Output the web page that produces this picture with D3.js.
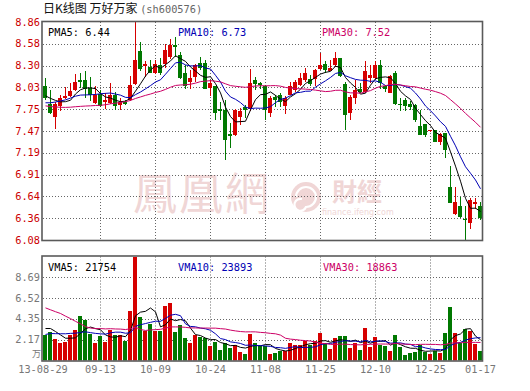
<!DOCTYPE html>
<html><head><meta charset="utf-8">
<script src="https://cdn.jsdelivr.net/npm/d3@7"></script>
<style>body{margin:0;background:#fff}svg{display:block}</style>
</head><body>
<svg id="c" width="530" height="391"></svg>
<script>
// ---------- data ----------
const dates = ["13-08-29","08-30","09-02","09-03","09-04","09-05","09-06","09-09","09-10","09-11","09-12","09-13",
"09-16","09-17","09-18","09-23","09-24","09-25","09-26","09-27","09-30","10-08","10-09",
"10-10","10-11","10-14","10-15","10-16","10-17","10-18","10-21","10-22","10-23","10-24",
"10-25","10-28","10-29","10-30","10-31","11-01","11-04","11-05","11-06","11-07","11-08",
"11-11","11-12","11-13","11-14","11-15","11-18","11-19","11-20","11-21","11-22","11-25",
"11-26","11-27","11-28","11-29","12-02","12-03","12-04","12-05","12-06","12-09","12-10",
"12-11","12-12","12-13","12-16","12-17","12-18","12-19","12-20","12-23","12-24","12-25",
"12-26","12-27","12-30","01-09","01-10","01-13","01-14","01-15","01-16","01-17"];
const open  = [8.04,7.82,7.65,7.79,7.89,7.91,7.99,8.12,8.12,8.02,7.83,7.94,7.84,7.83,7.93,7.80,7.84,7.86,8.07,8.49,
8.30,8.29,8.21,8.31,8.33,8.41,8.57,8.44,8.21,8.10,8.16,8.34,8.34,8.02,8.04,7.75,7.74,7.43,7.42,7.65,
7.77,7.75,8.12,8.08,8.04,7.70,7.90,7.93,7.79,7.93,7.99,8.06,8.12,8.13,8.13,8.26,8.33,8.23,8.31,8.40,
8.07,7.70,7.89,8.01,7.97,8.14,8.14,8.31,8.04,7.96,8.21,7.82,7.87,7.82,7.80,7.53,7.56,7.47,7.48,7.33,
7.44,6.76,6.41,6.51,6.35,6.30,6.54,6.51];
const high  = [8.14,7.99,7.84,7.93,8.03,8.08,8.20,8.21,8.23,8.16,8.04,7.99,7.95,8.08,7.97,7.89,7.87,8.17,8.86,8.61,
8.36,8.38,8.38,8.40,8.58,8.64,8.67,8.48,8.31,8.25,8.33,8.41,8.37,8.12,8.05,7.84,7.87,7.57,7.75,7.76,
7.80,8.26,8.16,8.10,8.06,7.92,7.93,7.95,7.91,8.10,8.12,8.21,8.27,8.19,8.26,8.46,8.36,8.38,8.48,8.40,
8.10,7.93,8.12,8.08,8.36,8.31,8.36,8.37,8.06,8.18,8.23,7.89,7.89,7.85,7.82,7.74,7.56,7.48,7.48,7.45,
7.45,7.02,6.76,6.63,6.51,6.61,6.61,6.56];
const low   = [7.87,7.69,7.50,7.72,7.88,7.90,7.98,8.02,7.89,7.85,7.82,7.78,7.75,7.82,7.74,7.74,7.80,7.85,8.06,8.23,
8.16,8.21,8.20,8.18,8.27,8.39,8.42,8.13,8.01,8.01,8.10,8.25,8.01,7.91,7.61,7.61,7.10,7.25,7.40,7.55,
7.64,7.72,7.99,8.01,7.61,7.65,7.77,7.78,7.69,7.93,7.97,8.04,8.10,8.04,8.04,8.25,8.21,8.23,8.29,8.16,
7.48,7.61,7.82,7.96,7.96,8.08,8.13,8.01,7.97,7.95,7.80,7.72,7.73,7.74,7.59,7.42,7.39,7.46,7.33,7.29,
7.12,6.55,6.40,6.36,6.08,6.22,6.48,6.34];
const close = [7.89,7.70,7.82,7.89,7.92,7.98,8.10,8.09,8.00,7.93,7.93,7.79,7.87,7.93,7.79,7.84,7.82,8.06,8.38,8.26,
8.33,8.21,8.33,8.21,8.50,8.57,8.54,8.14,8.04,8.14,8.31,8.27,8.01,8.08,7.70,7.72,7.36,7.41,7.74,7.72,
7.74,8.08,8.07,8.06,7.74,7.89,7.86,7.84,7.89,8.04,8.10,8.14,8.21,8.07,8.25,8.31,8.25,8.27,8.40,8.17,
7.67,7.90,7.99,7.97,8.23,8.18,8.31,8.08,8.00,8.17,7.82,7.81,7.79,7.77,7.61,7.42,7.42,7.48,7.33,7.43,
7.23,6.55,6.57,6.37,6.34,6.59,6.56,6.36];
// volume in 万手
const volume = [2.64,2.99,2.23,1.84,1.94,2.64,3.17,4.63,4.21,2.82,1.84,2.54,1.94,3.17,2.64,2.64,2.05,5.15,10.865,4.56,
3.06,3.79,3.11,3.06,5.67,6.02,2.96,3.69,2.36,1.88,2.64,2.47,2.36,1.53,1.94,1.08,1.88,1.32,1.67,0.90,
0.73,2.75,1.78,1.53,1.53,0.66,0.79,1.00,1.00,1.84,1.67,1.67,2.02,1.60,2.02,2.88,1.84,1.18,2.37,2.60,
2.51,1.32,1.836,1.08,3.36,1.42,2.44,1.67,1.53,0.97,2.70,1.42,0.55,0.79,0.90,1.67,0.90,0.66,0.95,0.77,
2.86,5.58,2.856,1.80,3.30,3.10,1.69,0.987];
// sessions before the visible window (only feed the moving averages)
const histClose = [7.95,7.98,8.02,7.96,7.90,7.92,7.95,7.88,7.85,7.80,7.72,7.65,7.58,7.55,7.52,7.55,7.60,7.62,7.68,7.73,
7.70,7.72,7.76,7.78,7.75,7.86,7.95,7.98,7.91];
const histVolume = [9,8.2,7.4,10.3,10.4,11.7,12.3,13.1,7.3,3.5,2.5,3.0,2.5,3.5,3.0,3.5,2.5,6.0,12.0,6.0,
2.0,2.4,1.9,2.0,2.2,3.0,3.8,3.6,3.67];
const priceTickLabels = ["6.08","6.36","6.64","6.91","7.19","7.47","7.75","8.03","8.30","8.58","8.86"];
const volTickLabels = ["2.17","4.35","6.52","8.69"];
const xTickIndex = [0,11,22,33,44,55,66,77,87];
const maPeriods = [5,10,30];

// ---------- drawing ----------
const RED = "#d60000", GREEN = "#007800", GRID = "#666", FRAME = "#5a5a5a";
const maColors = ["#000000","#0000b4","#cc0066"];
const mono = "'DejaVu Sans Mono', monospace";
const svg = d3.select("#c");
const n = close.length;
const P = {top:22, bottom:240}, V = {top:256.5, bottom:360.5};
const L = 43, R = 482;

const x = d3.scaleBand().domain(d3.range(n)).range([L, R]).paddingInner(0.2).paddingOuter(0);
const pMin = d3.min(low), pMax = d3.max(high);
const y = d3.scaleLinear().domain([pMin, pMax]).range([P.bottom, P.top]);
const vMax = d3.max(volume);
const yv = d3.scaleLinear().domain([0, vMax]).range([V.bottom, V.top]);

function ma(series, hist, p){
  const full = hist.concat(series), h = hist.length;
  return series.map((_, i) => d3.mean(full.slice(h + i - p + 1, h + i + 1)));
}
const pMA = maPeriods.map(p => ma(close, histClose, p));
const vMA = maPeriods.map(p => ma(volume, histVolume, p));

const defs = svg.append("defs");
defs.append("clipPath").attr("id","cp").append("rect").attr("x",L).attr("y",P.top).attr("width",R-L).attr("height",P.bottom-P.top);
defs.append("clipPath").attr("id","cv").append("rect").attr("x",L).attr("y",V.top).attr("width",R-L).attr("height",V.bottom-V.top);

// title
const t = svg.append("text").attr("x",43).attr("y",13).attr("font-size",12);
t.append("tspan").attr("font-family","'Noto Sans CJK SC', sans-serif").attr("fill","#111").text("日K线图 万好万家 ");
t.append("tspan").attr("font-family",mono).attr("font-size",10.3).attr("fill","#666").text("(sh600576)");

// watermark
const wm = svg.append("g").attr("fill","#f0d6d6");
wm.append("text").attr("x",133).attr("y",210).attr("font-size",44).attr("font-family","'Noto Sans CJK TC', sans-serif").attr("letter-spacing",2).text("鳳凰網");
wm.append("circle").attr("cx",306).attr("cy",197).attr("r",15);
wm.append("path").attr("d","M296,197 a10,10 0 1,1 10,10 a6,6 0 1,1 -4,-8").attr("fill","none").attr("stroke","#fff").attr("stroke-width",2.2);
wm.append("text").attr("x",332).attr("y",201).attr("font-size",25).attr("font-weight","bold").attr("font-family","'Noto Sans CJK TC', sans-serif").text("財經");
wm.append("text").attr("x",322).attr("y",215).attr("font-size",8).attr("font-family","'DejaVu Sans', sans-serif").text("finance.ifeng.com");

// gridlines
function hgrid(sc, vals, top, bottom){
  vals.forEach(v => {
    const yy = Math.round(sc(v)) + 0.5;
    if (yy <= top + 1 || yy >= bottom - 1) return;
    svg.append("line").attr("x1",L).attr("x2",R).attr("y1",yy).attr("y2",yy)
      .attr("stroke",GRID).attr("stroke-dasharray","1,2");
  });
}
const pStep = (pMax - pMin) / 10;
const pTickVals = priceTickLabels.map((_, i) => pMin + i * pStep);
const vTickVals = volTickLabels.map((_, i) => vMax * (i + 1) / 5);
hgrid(y, pTickVals, P.top, P.bottom);
hgrid(yv, vTickVals, V.top, V.bottom);
xTickIndex.slice(1, -1).forEach(i => {
  const xx = Math.round(x(i) + 2) + 0.5;
  [[P.top, P.bottom], [V.top, V.bottom]].forEach(([a, b]) =>
    svg.append("line").attr("x1",xx).attr("x2",xx).attr("y1",a).attr("y2",b)
      .attr("stroke",GRID).attr("stroke-dasharray","1,2"));
});

// candles
const gc = svg.append("g").attr("clip-path","url(#cp)").attr("shape-rendering","crispEdges");
d3.range(n).forEach(i => {
  const col = close[i] > open[i] ? RED : (close[i] < open[i] ? GREEN : RED);
  gc.append("rect").attr("x", x(i) + 2).attr("width", 1)
    .attr("y", y(high[i])).attr("height", Math.max(1, y(low[i]) - y(high[i]))).attr("fill", col);
  const top = y(Math.max(open[i], close[i])), bot = y(Math.min(open[i], close[i]));
  gc.append("rect").attr("x", x(i)).attr("width", x.bandwidth())
    .attr("y", top).attr("height", Math.max(1, bot - top)).attr("fill", col);
});

// volume bars
const gv = svg.append("g").attr("clip-path","url(#cv)").attr("shape-rendering","crispEdges");
gv.selectAll("rect").data(volume).join("rect")
  .attr("x", (d, i) => x(i)).attr("width", x.bandwidth())
  .attr("y", d => yv(d)).attr("height", d => V.bottom - yv(d))
  .attr("fill", (d, i) => close[i] >= open[i] ? RED : GREEN);

// MA lines
const lineP = d3.line().x((d, i) => x(i) + 2.5).y(d => y(d));
const lineV = d3.line().x((d, i) => x(i) + 2.5).y(d => yv(d));
pMA.forEach((s, k) => svg.append("path").attr("clip-path","url(#cp)").attr("d", lineP(s))
  .attr("fill","none").attr("stroke", maColors[k]).attr("stroke-width",1));
vMA.forEach((s, k) => svg.append("path").attr("clip-path","url(#cv)").attr("d", lineV(s))
  .attr("fill","none").attr("stroke", maColors[k]).attr("stroke-width",1));

// frames
[[P.top, P.bottom], [V.top, V.bottom]].forEach(([a, b]) =>
  svg.append("rect").attr("x", L - 1).attr("y", a - 0.5).attr("width", R - L + 1.5).attr("height", b - a + 1)
    .attr("fill","none").attr("stroke", FRAME).attr("stroke-width", 1.6));

// axis labels
priceTickLabels.forEach((lab, i) => svg.append("text").attr("x", 40).attr("y", y(pTickVals[i]) + 3.5)
  .attr("text-anchor","end").attr("font-family", mono).attr("font-size", 10.3).attr("fill", "#cc0000").text(lab));
volTickLabels.forEach((lab, i) => svg.append("text").attr("x", 40).attr("y", yv(vTickVals[i]) + 3.5)
  .attr("text-anchor","end").attr("font-family", mono).attr("font-size", 10.3).attr("fill", "#777").text(lab));
svg.append("text").attr("x", 41).attr("y", 357).attr("text-anchor","end")
  .attr("font-family","'Noto Sans CJK SC', sans-serif").attr("font-size", 9).attr("fill","#777").text("万");
xTickIndex.forEach((i, k) => svg.append("text").attr("x", k === 0 ? 43 : x(i) + 2.5).attr("y", 373)
  .attr("text-anchor","middle").attr("font-family", mono).attr("font-size", 10.3).attr("fill", "#777").text(dates[i]));

// legends
const last = a => a[a.length - 1];
const legP = [["PMA5: ", 48], ["PMA10: ", 178], ["PMA30: ", 322]];
legP.forEach(([lab, lx], k) => svg.append("text").attr("x", lx).attr("y", 36).attr("font-family", mono)
  .attr("font-size", 10.3).attr("fill", maColors[k]).attr("xml:space","preserve").text(lab + last(pMA[k]).toFixed(2)));
const legV = [["VMA5: ", 48], ["VMA10: ", 178], ["VMA30: ", 323]];
legV.forEach(([lab, lx], k) => svg.append("text").attr("x", lx).attr("y", 271).attr("font-family", mono)
  .attr("font-size", 10.3).attr("fill", maColors[k]).attr("xml:space","preserve").text(lab + Math.round(last(vMA[k]) * 10000)));
</script>
</body></html>
